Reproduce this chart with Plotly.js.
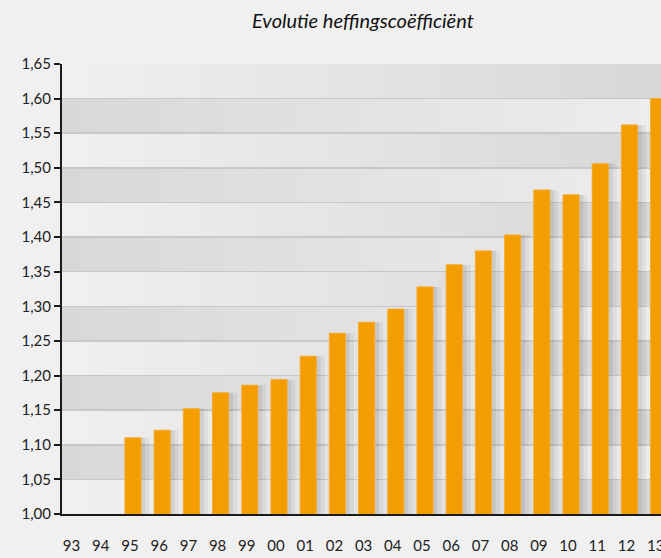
<!DOCTYPE html>
<html>
<head>
<meta charset="utf-8">
<script src="https://cdn.plot.ly/plotly-3.0.1.min.js"></script>
<style>
html,body{margin:0;padding:0;background:#f0f0f0;overflow:hidden;}
#chart{width:661px;height:558px;}
</style>
</head>
<body>
<div id="chart"></div>
<script>
// ---- data ----
var years = ['93','94','95','96','97','98','99','00','01','02','03','04','05','06','07','08','09','10','11','12','13'];
var coefficient = [null, null, 1.110, 1.121, 1.152, 1.175, 1.186, 1.194, 1.228, 1.261, 1.277, 1.296, 1.328, 1.360, 1.380, 1.403, 1.468, 1.461, 1.506, 1.562, 1.600];
var yTicks = [1.00,1.05,1.10,1.15,1.20,1.25,1.30,1.35,1.40,1.45,1.50,1.55,1.60,1.65];
var titleText = 'Evolutie heffingscoëfficiënt';

// ---- background bands with horizontal gradients ----
var shapes = [];
var NSEG = 30;
function grey(v){v=Math.round(v);return 'rgb('+v+','+v+','+v+')';}
for (var k = 0; k < yTicks.length - 1; k++) {
  var y0 = yTicks[k], y1 = yTicks[k+1];
  var cL = (k % 2 === 0) ? 240 : 216;
  var cR = (k % 2 === 0) ? 215 : 237;
  for (var s = 0; s < NSEG; s++) {
    var f = (s + 0.5) / NSEG;
    shapes.push({type:'rect', xref:'paper', yref:'y', x0:s/NSEG, x1:(s+1)/NSEG + 0.002, y0:y0, y1:y1,
      fillcolor: grey(cL + (cR - cL) * f), line:{width:0}, layer:'below'});
  }
}

var barW = 0.55;
var shadow1 = {type:'bar', x: years, y: coefficient, width: barW + 0.26, offset: -barW/2 + 0.03,
  marker:{color:'rgba(0,0,0,0.05)'}, hoverinfo:'skip', showlegend:false};
var shadow2 = {type:'bar', x: years, y: coefficient, width: barW + 0.14, offset: -barW/2 + 0.01,
  marker:{color:'rgba(0,0,0,0.07)'}, hoverinfo:'skip', showlegend:false};
var bars = {type:'bar', x: years, y: coefficient, width: barW, offset: -barW/2,
  marker:{color:'#F49D00', line:{color:'#F6AB2A', width:1}}, showlegend:false};

var layout = {
  width: 661, height: 558,
  margin: {l: 62, r: 0, t: 64, b: 44, pad: 0},
  paper_bgcolor: '#f0f0f0',
  plot_bgcolor: 'rgba(0,0,0,0)',
  separators: ',.',
  barmode: 'overlay',
  font: {family: 'Lato, "Open Sans", sans-serif', color: '#222', size: 15},
  title: {text: '<i>' + titleText + '</i>', x: 0.549, xanchor: 'center', y: 0.962, yanchor: 'middle', yref: 'container',
    font: {family: 'Lato, "Open Sans", sans-serif', size: 20, color: '#111'}},
  xaxis: {type: 'category', range: [-0.43, 20.08], showgrid: false, zeroline: false,
    showline: true, linecolor: '#1a1a1a', linewidth: 2, ticks: '', ticklabelstandoff: 17, ticklabelshift: -3,
    tickfont: {size: 15, color: '#222'}, fixedrange: true},
  yaxis: {range: [1.0, 1.65], tickvals: yTicks, tickformat: '.2f', showgrid: true, gridcolor: '#c8c8c8', gridwidth: 1.5,
    zeroline: false, showline: true, linecolor: '#1a1a1a', linewidth: 2, ticks: 'outside', ticklen: 6, tickwidth: 2,
    tickcolor: '#1a1a1a', tickfont: {size: 15, color: '#222'}, fixedrange: true},
  shapes: shapes
};

Plotly.newPlot('chart', [shadow1, shadow2, bars], layout, {displayModeBar: false, staticPlot: true});
</script>
</body>
</html>
